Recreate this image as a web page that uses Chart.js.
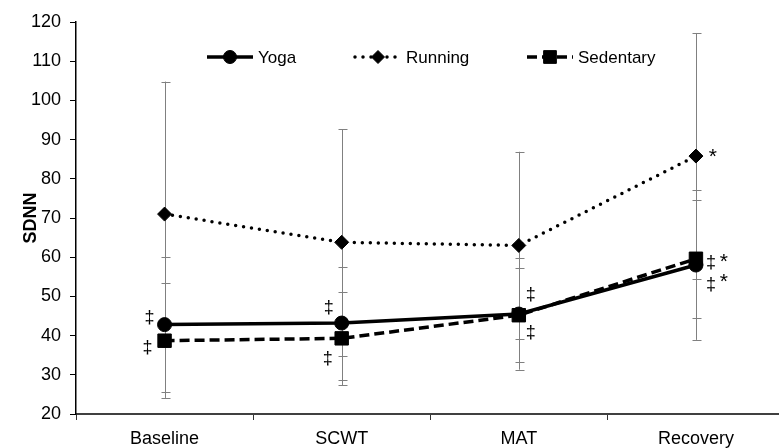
<!DOCTYPE html>
<html>
<head>
<meta charset="utf-8">
<script src="https://cdn.jsdelivr.net/npm/chart.js@4/dist/chart.umd.min.js"></script>
<style>
    html, body { margin: 0; padding: 0; background: #fff; overflow: hidden; }
    #wrap { width: 779px; height: 448px; overflow: hidden; }
</style>
</head>
<body>
<div id="wrap"><canvas id="sdnnChart" width="795" height="448"></canvas></div>
<script>
const categories = ['Baseline', 'SCWT', 'MAT', 'Recovery'];
const yogaMean = [42.8, 43.2, 45.5, 58.0];
const yogaSd = [17.3, 14.4, 14.2, 19.1];
const runningMean = [71.0, 63.8, 63.0, 85.8];
const runningSd = [33.8, 28.9, 23.9, 31.4];
const sedentaryMean = [38.7, 39.3, 45.2, 59.6];
const sedentarySd = [14.6, 11.9, 12.0, 15.0];
const yMin = 20;
const yMax = 120;
const yStep = 10;

// significance marks: dataset index, category index, symbol
const marks = [
    { ds: 0, i: 0, text: '\u2021', dx: -15, dy: -7 },
    { ds: 2, i: 0, text: '\u2021', dx: -17, dy: 7 },
    { ds: 0, i: 1, text: '\u2021', dx: -13, dy: -15 },
    { ds: 2, i: 1, text: '\u2021', dx: -14, dy: 21 },
    { ds: 0, i: 2, text: '\u2021', dx: 12, dy: -19 },
    { ds: 2, i: 2, text: '\u2021', dx: 12, dy: 18 },
    { ds: 1, i: 3, text: '*', dx: 17, dy: -2 },
    { ds: 2, i: 3, text: '\u2021', dx: 15, dy: 4 },
    { ds: 2, i: 3, text: '*', dx: 28, dy: 0 },
    { ds: 0, i: 3, text: '\u2021', dx: 15, dy: 20 },
    { ds: 0, i: 3, text: '*', dx: 28, dy: 14 }
];

const sdLists = [yogaSd, runningSd, sedentarySd];

const errorBars = {
    id: 'errorBars',
    beforeDatasetsDraw(chart) {
        const { ctx, scales: { x, y } } = chart;
        ctx.save();
        ctx.strokeStyle = '#808080';
        ctx.lineWidth = 1;
        chart.data.datasets.forEach((ds, d) => {
            ds.data.forEach((v, i) => {
                const px = Math.round(x.getPixelForValue(i)) + 0.5;
                const top = y.getPixelForValue(v + sdLists[d][i]);
                const bot = y.getPixelForValue(v - sdLists[d][i]);
                ctx.beginPath();
                ctx.moveTo(px, top);
                ctx.lineTo(px, bot);
                ctx.moveTo(px - 4, Math.round(top) + 0.5);
                ctx.lineTo(px + 5, Math.round(top) + 0.5);
                ctx.moveTo(px - 4, Math.round(bot) + 0.5);
                ctx.lineTo(px + 5, Math.round(bot) + 0.5);
                ctx.stroke();
            });
        });
        ctx.restore();
    }
};

const extras = {
    id: 'extras',
    afterDraw(chart) {
        const { ctx, scales: { x, y } } = chart;
        ctx.save();
        ctx.fillStyle = '#000';
        ctx.textAlign = 'center';
        ctx.textBaseline = 'middle';
        marks.forEach(m => {
            const v = chart.data.datasets[m.ds].data[m.i];
            const px = x.getPixelForValue(m.i) + m.dx;
            const py = y.getPixelForValue(v) + m.dy;
            ctx.font = m.text === '*' ? '21px "Liberation Sans", Arial' : '18px "Liberation Sans", Arial';
            ctx.fillText(m.text, px, m.text === '*' ? py + 3 : py);
        });

        // legend drawn inside the plot, line + marker samples
        const starts = [207, 355, 527];
        const ly = 57;
        ctx.textAlign = 'left';
        ctx.font = '17px "Liberation Sans", Arial';
        chart.data.datasets.forEach((ds, d) => {
            const x0 = starts[d];
            ctx.save();
            ctx.strokeStyle = '#000';
            ctx.lineWidth = ds.borderWidth;
            ctx.lineCap = ds.borderCapStyle || 'butt';
            ctx.setLineDash(ds.borderDash || []);
            ctx.beginPath();
            ctx.moveTo(x0, ly);
            ctx.lineTo(x0 + 46, ly);
            ctx.stroke();
            ctx.restore();
            ctx.fillStyle = '#000';
            ctx.strokeStyle = '#000';
            Chart.helpers.drawPoint(ctx, {
                pointStyle: ds.pointStyle,
                rotation: 0,
                radius: ds.pointRadius - 0.5,
                borderWidth: 1
            }, x0 + 23, ly);
            ctx.fillText(ds.label, x0 + 51, ly + 1);
        });
        ctx.restore();
    }
};

new Chart(document.getElementById('sdnnChart'), {
    type: 'line',
    data: {
        labels: categories,
        datasets: [
            {
                label: 'Yoga',
                data: yogaMean,
                borderColor: '#000',
                backgroundColor: '#000',
                borderWidth: 3.5,
                pointStyle: 'circle',
                pointRadius: 7,
                pointBorderWidth: 1,
                order: 2
            },
            {
                label: 'Running',
                data: runningMean,
                borderColor: '#000',
                backgroundColor: '#000',
                borderWidth: 3.5,
                borderDash: [0, 8],
                borderCapStyle: 'round',
                pointStyle: 'rectRot',
                pointRadius: 7,
                pointBorderWidth: 1,
                order: 1
            },
            {
                label: 'Sedentary',
                data: sedentaryMean,
                borderColor: '#000',
                backgroundColor: '#000',
                borderWidth: 3.5,
                borderDash: [10, 5],
                pointStyle: 'rect',
                pointRadius: 9.5,
                pointBorderWidth: 1,
                order: 0
            }
        ]
    },
    options: {
        responsive: false,
        animation: false,
        devicePixelRatio: 1,
        layout: { padding: { top: 22, left: 0, right: 0, bottom: 0 } },
        plugins: {
            legend: { display: false },
            tooltip: { enabled: false }
        },
        scales: {
            x: {
                offset: true,
                grid: {
                    offset: true,
                    drawOnChartArea: false,
                    drawTicks: true,
                    tickLength: 6,
                    color: '#333'
                },
                border: { display: true, color: '#404040', width: 2 },
                ticks: {
                    color: '#000',
                    padding: 8,
                    font: { family: '"Liberation Sans", Arial', size: 18 }
                },
                afterFit(scale) { scale.height = 34; }
            },
            y: {
                min: yMin,
                max: yMax,
                ticks: {
                    stepSize: yStep,
                    color: '#000',
                    padding: 9,
                    font: { family: '"Liberation Sans", Arial', size: 18 }
                },
                grid: {
                    drawOnChartArea: false,
                    drawTicks: true,
                    tickLength: 6,
                    color: '#000'
                },
                border: { display: true, color: '#000', width: 1.5 },
                title: {
                    display: true,
                    text: 'SDNN',
                    color: '#000',
                    padding: { top: 20, bottom: 0 },
                    font: { family: '"Liberation Sans", Arial', size: 18, weight: 'bold' }
                },
                afterFit(scale) { scale.width = 76; }
            }
        }
    },
    plugins: [errorBars, extras]
});
</script>
</body>
</html>
